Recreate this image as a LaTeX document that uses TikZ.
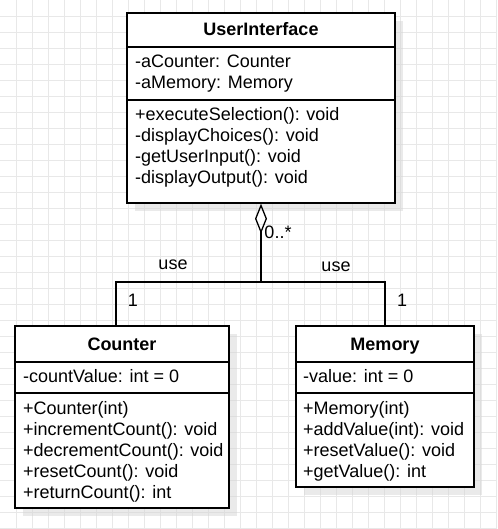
\documentclass[tikz,border=0pt]{standalone}
\usepackage{fontspec}
\setmainfont{Liberation Sans}
\usetikzlibrary{arrows.meta,shadows,calc,positioning}
\tikzset{
  classbox/.style={
      draw,
      line width=1.3pt,
      fill=white,
      inner sep=0pt,
      drop shadow={shadow xshift=8pt,shadow yshift=-8pt,fill=black!16,opacity=0.5},
  },
  classname/.style={
      font=\bfseries\fontsize{18}{21}\selectfont,
      anchor=base,
      inner sep=0pt,
  },
  member/.style={
      font=\fontsize{18}{21}\selectfont,
      anchor=base west,
      inner sep=0pt,
  },
  separator/.style={
      line width=1.3pt,
  },
  connector/.style={
      line width=1.3pt,
  },
  aggregation/.style={
      connector,
      {Diamond[open,length=30pt,width=12pt]}-,
  },
  multiplicity/.style={
      font=\fontsize{18}{21}\selectfont,
      inner sep=0pt,
  },
  gridline/.style={
      draw=black!9,
      line width=0.7pt,
  },
}
\begin{document}
\begin{tikzpicture}[x=1pt,y=-1pt]
  \useasboundingbox (0,0) rectangle (497,529);

  % background grid
  \foreach \g in {16,32,...,496} \draw[gridline] (\g,0) -- (\g,529);
  \foreach \g in {16,32,...,528} \draw[gridline] (0,\g) -- (497,\g);

  % UserInterface
  \node[classbox, minimum width=268pt, minimum height=190pt] (ui) at (261,108) {};
  \node[classname] (uiname) at (261,36) {UserInterface};
  \draw[separator] (ui.west |- 0,47) -- (ui.east |- 0,47);
  \draw[separator] (ui.west |- 0,100) -- (ui.east |- 0,100);
  \foreach \m [count=\i] in {-aCounter: Counter, -aMemory: Memory}
    \node[member] (uiattr\i) at (135,{47+21*\i}) {\m};
  \foreach \m [count=\i] in {+executeSelection(): void, -displayChoices(): void,
      -getUserInput(): void, -displayOutput(): void}
    \node[member] (uiop\i) at (135,{100+21*\i}) {\m};

  % Counter
  \node[classbox, minimum width=214pt, minimum height=182pt] (counter) at (122,417) {};
  \node[classname] (countername) at (122,350) {Counter};
  \draw[separator] (counter.west |- 0,362) -- (counter.east |- 0,362);
  \draw[separator] (counter.west |- 0,393) -- (counter.east |- 0,393);
  \node[member] (counterattr1) at (23,382) {-countValue: int = 0};
  \foreach \m [count=\i] in {+Counter(int), +incrementCount(): void,
      +decrementCount(): void, +resetCount(): void, +returnCount(): int}
    \node[member] (counterop\i) at (23,{393+21*\i}) {\m};

  % Memory
  \node[classbox, minimum width=178pt, minimum height=161pt] (memory) at (385,406.5) {};
  \node[classname] (memoryname) at (385,350) {Memory};
  \draw[separator] (memory.west |- 0,362) -- (memory.east |- 0,362);
  \draw[separator] (memory.west |- 0,393) -- (memory.east |- 0,393);
  \node[member] (memoryattr1) at (303,382) {-value: int = 0};
  \foreach \m [count=\i] in {+Memory(int), +addValue(int): void,
      +resetValue(): void, +getValue(): int}
    \node[member] (memoryop\i) at (303,{393+21*\i}) {\m};

  % associations
  \coordinate (join) at (ui.south |- 0,282);
  \draw[aggregation] (ui.south) -- (join);
  \draw[connector] ([xshift=-6pt]counter.north) |- (join) -| (memory.north);

  \node[multiplicity] (many) at (278,232) {0..*};
  \node[multiplicity] (useleft) at (173,265) {use};
  \node[multiplicity] (useright) at (336,267) {use};
  \node[multiplicity] (oneleft) at (133,300) {1};
  \node[multiplicity] (oneright) at (402,300) {1};
\end{tikzpicture}
\end{document}
